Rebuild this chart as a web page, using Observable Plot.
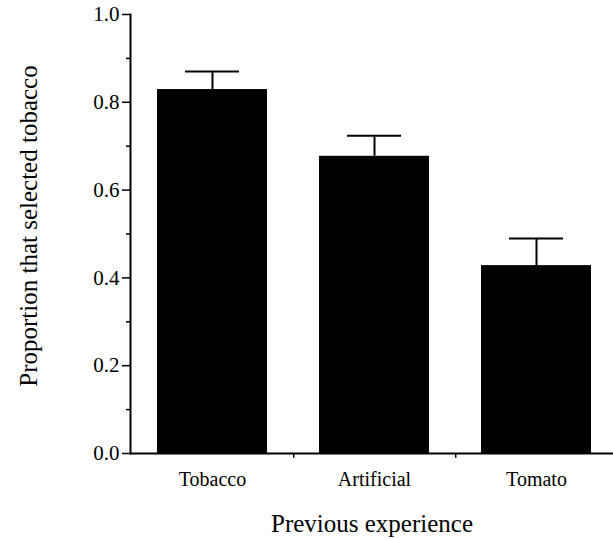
<!DOCTYPE html>
<html>
<head>
<meta charset="utf-8">
<script src="https://cdn.jsdelivr.net/npm/d3@7"></script>
<script src="https://cdn.jsdelivr.net/npm/@observablehq/plot@0.6"></script>
<style>
  html, body { margin: 0; padding: 0; background: #fff; overflow: hidden; }
  svg { display: block; }
</style>
</head>
<body>
<div id="chart"></div>
<script>
const categories = ["Tobacco", "Artificial", "Tomato"];
const proportions = [0.829, 0.677, 0.428];
const errorTops = [0.870, 0.724, 0.490];
const majorTicks = [0, 0.2, 0.4, 0.6, 0.8, 1.0];
const minorTicks = [0.1, 0.3, 0.5, 0.7, 0.9];

const data = categories.map((c, i) => ({cat: c, p: proportions[i], hi: errorTops[i]}));

const W = 613, H = 539;
const mL = 130, mT = 14, mB = 86;
const xRange = [130, 617];
const padIn = 0.323, padOut = 0.16;
const step = (xRange[1] - xRange[0]) / (categories.length - padIn + 2 * padOut);
const bw = step * (1 - padIn);
const capInset = (bw - 54) / 2;
const font = "'Liberation Serif', 'Times New Roman', serif";

const plot = Plot.plot({
  width: W,
  height: H,
  marginLeft: mL,
  marginRight: 0,
  marginTop: mT,
  marginBottom: mB,
  style: {fontFamily: font, background: "#fff", color: "#000"},
  x: {domain: categories, range: xRange, paddingInner: padIn, paddingOuter: padOut, axis: null},
  y: {domain: [0, 1], axis: null},
  marks: [
    Plot.barY(data, {x: "cat", y: "p", fill: "#000"}),
    Plot.ruleX(data, {x: "cat", y1: "p", y2: "hi", stroke: "#000", strokeWidth: 2}),
    Plot.tickY(data, {x: "cat", y: "hi", stroke: "#000", strokeWidth: 2, insetLeft: capInset, insetRight: capInset}),
    Plot.ruleY([0], {stroke: "#000", strokeWidth: 2}),
    Plot.frame({anchor: "left", stroke: "#000", strokeWidth: 2}),
    Plot.axisY({ticks: majorTicks, tickSize: 8, tickPadding: 3, tickFormat: d3.format(".1f"), fontSize: 21, label: null, strokeWidth: 1.5}),
    Plot.axisY({ticks: minorTicks, tickSize: 4, tickFormat: () => "", label: null, strokeWidth: 1.5}),
    Plot.ruleX(categories.slice(0, -1), {x: d => d, y1: 0, y2: -0.011, dx: step / 2, stroke: "#000", strokeWidth: 1.5}),
    Plot.axisX({tickSize: 0, tickPadding: 18, fontSize: 20, label: null}),
    Plot.text(["Previous experience"], {frameAnchor: "bottom", dy: 78, fontSize: 25, text: d => d}),
    Plot.text(["Proportion that selected tobacco"], {frameAnchor: "left", textAnchor: "middle", dx: -102, dy: -8, rotate: -90, fontSize: 25, text: d => d})
  ]
});
document.getElementById("chart").appendChild(plot);
</script>
</body>
</html>
